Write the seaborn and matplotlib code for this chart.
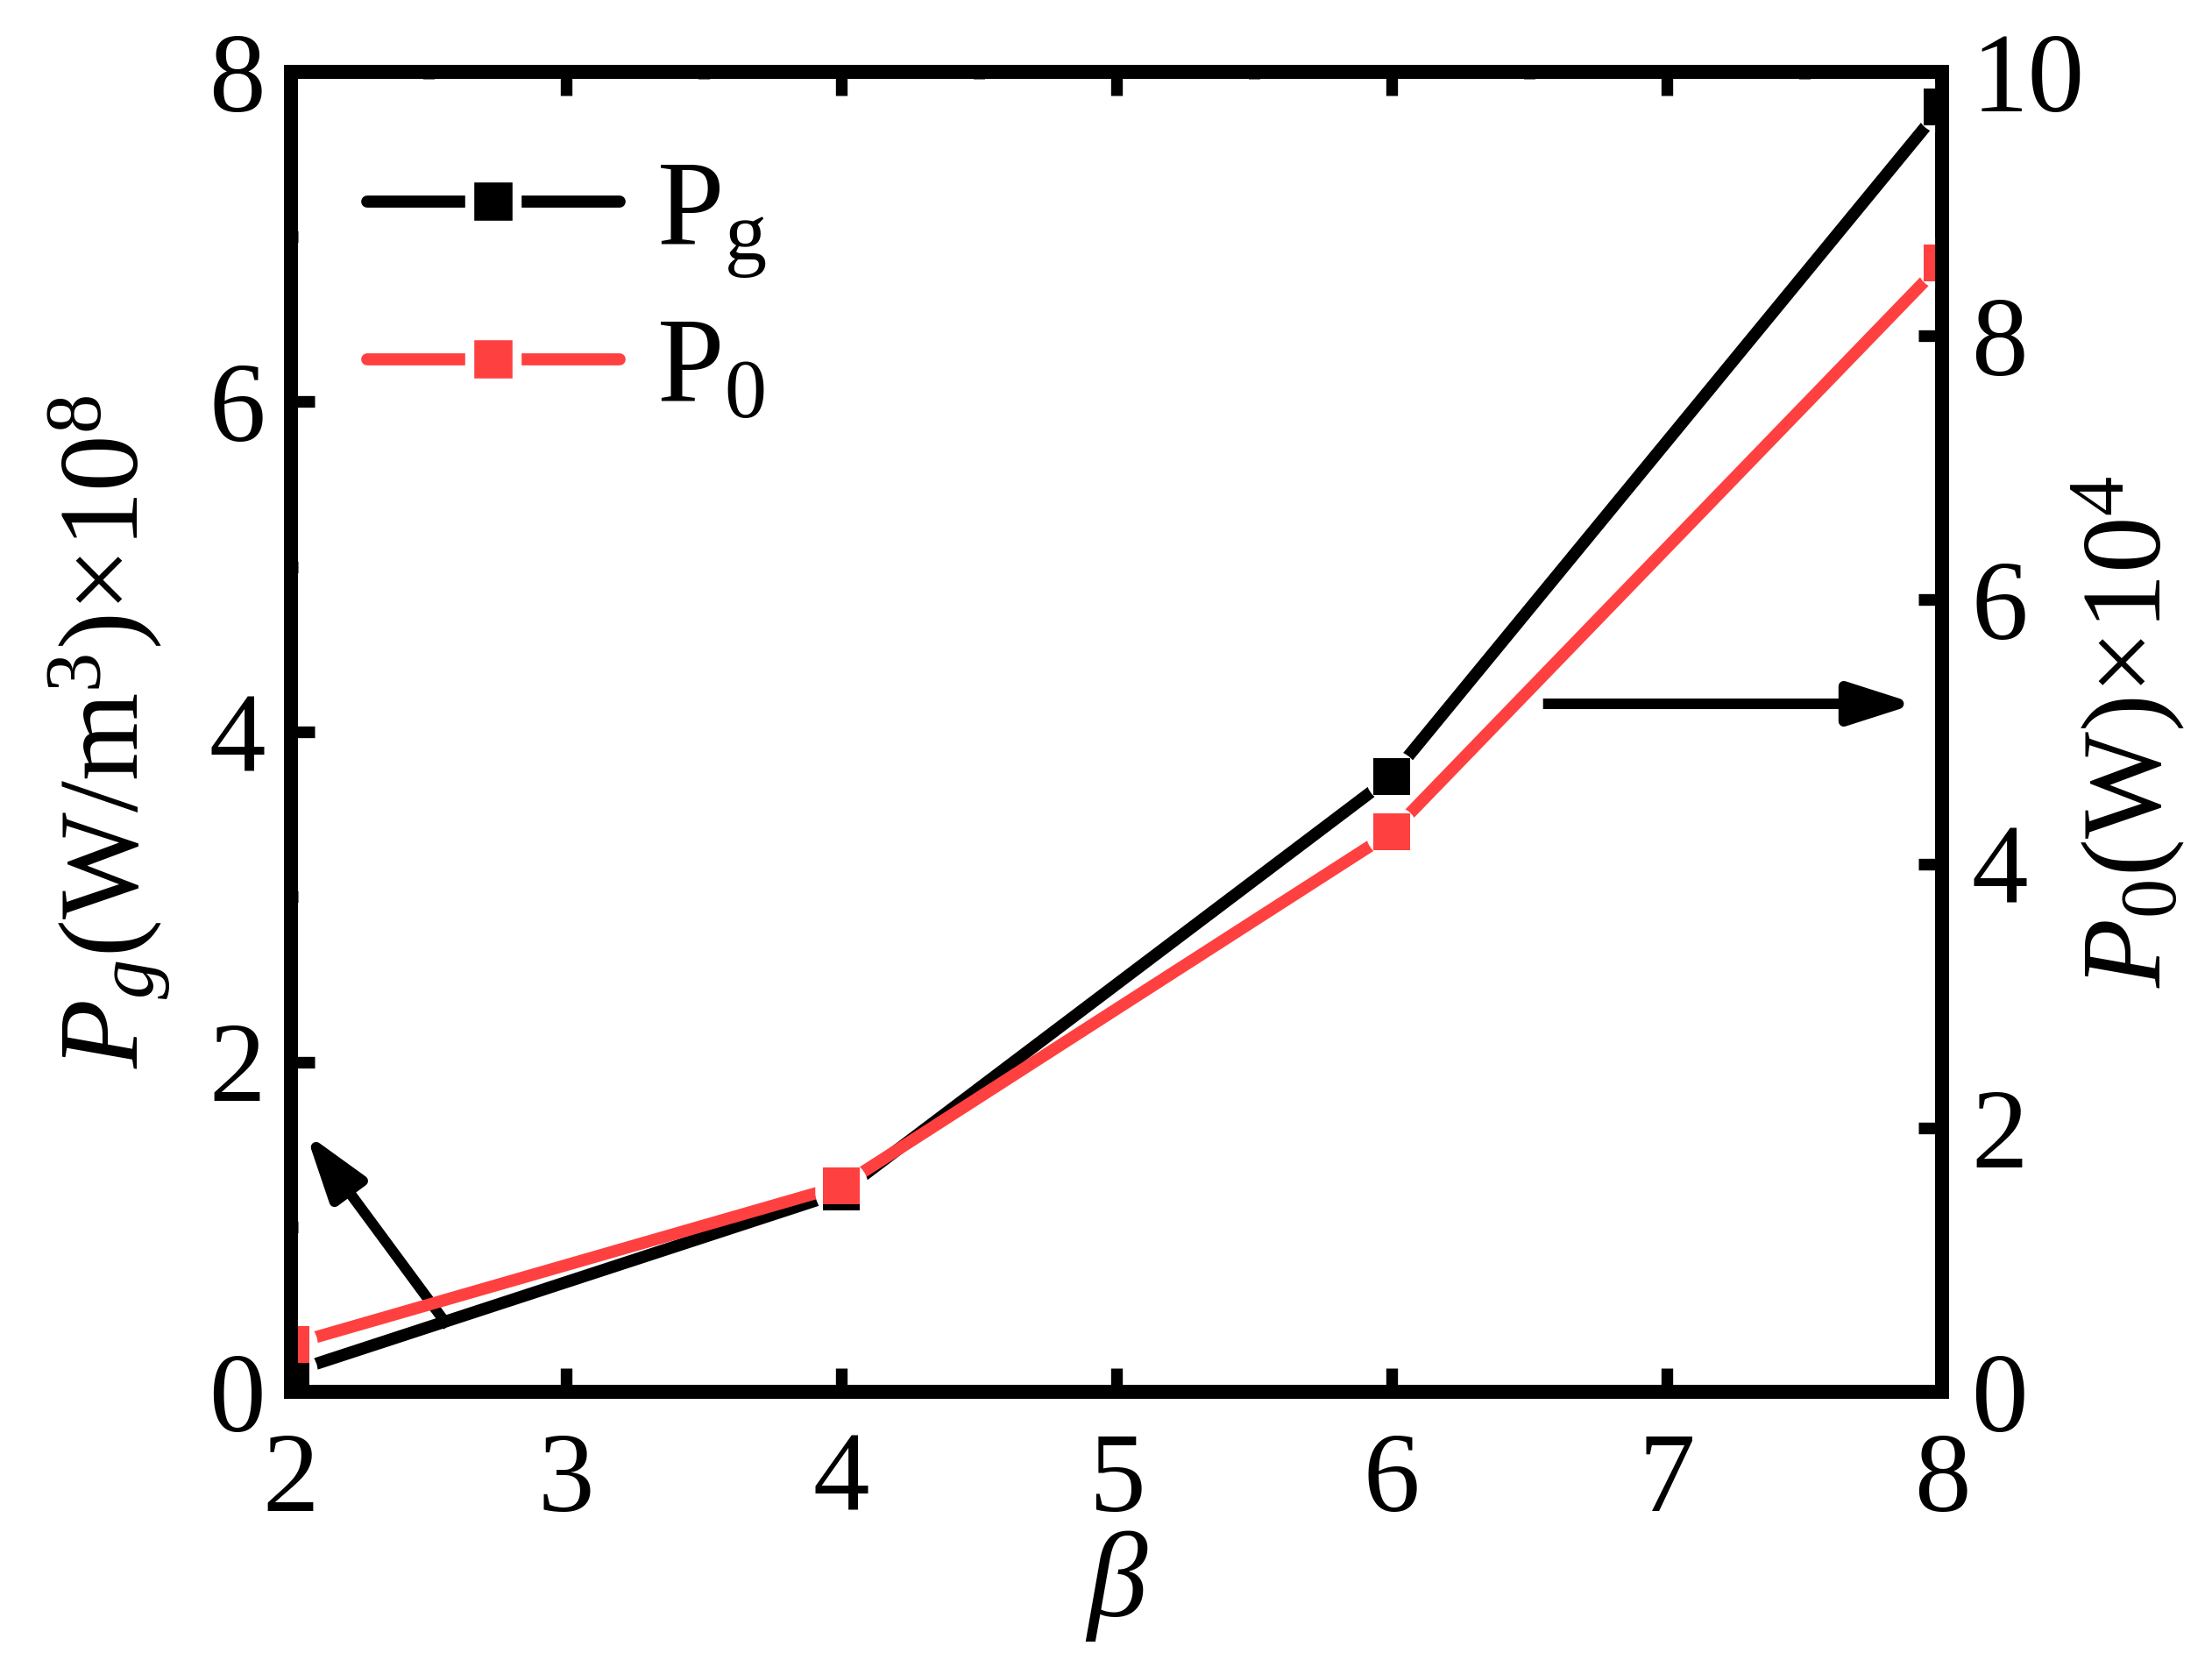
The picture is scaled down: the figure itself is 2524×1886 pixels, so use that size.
import numpy as np
import pandas as pd
import matplotlib
matplotlib.use("Agg")
import matplotlib.pyplot as plt
from matplotlib.lines import Line2D
from matplotlib.ticker import MultipleLocator
from matplotlib import font_manager
import seaborn as sns

# ---- data ----
beta = [2, 4, 6, 8]
pg = [0.12, 1.21, 3.73, 7.79]      # Pg (W/m^3) x 1e8, left axis
p0 = [0.36, 1.56, 4.24, 8.55]      # P0 (W) x 1e4, right axis
legend_labels = [r"P$_\mathrm{g}$", r"P$_0$"]
x_ticks = [2, 3, 4, 5, 6, 7, 8]
left_ticks = [0, 2, 4, 6, 8]
right_ticks = [0, 2, 4, 6, 8, 10]

RED = "#FF4040"
BLACK = "#000000"

sns.set_style("ticks")

# locate a Times-like serif font
serif_name = None
try:
    for path in font_manager.findSystemFonts():
        low = path.lower().replace(" ", "").replace("-", "").replace("_", "")
        if "liberationserif" in low:
            try:
                font_manager.fontManager.addfont(path)
                if serif_name is None:
                    serif_name = font_manager.FontProperties(fname=path).get_name()
            except Exception:
                pass
except Exception:
    pass
if serif_name is None:
    names = {f.name for f in font_manager.fontManager.ttflist}
    for cand in ["Liberation Serif", "Times New Roman", "Nimbus Roman", "DejaVu Serif"]:
        if cand in names:
            serif_name = cand
            break
plt.rcParams["font.family"] = "serif"
plt.rcParams["font.serif"] = [serif_name, "DejaVu Serif"]
plt.rcParams["mathtext.fontset"] = "custom"
plt.rcParams["mathtext.rm"] = serif_name
plt.rcParams["mathtext.it"] = serif_name + ":italic"
plt.rcParams["mathtext.bf"] = serif_name + ":bold"
for k in ["text.color", "axes.labelcolor", "xtick.color", "ytick.color", "axes.edgecolor"]:
    plt.rcParams[k] = "black"

FS = 31
LW = 3.3
SPW = 3.8
MS = 10.3
HALO = 14.5

df = pd.DataFrame({"beta": beta, "pg": pg, "p0": p0})

fig = plt.figure(figsize=(2524 / 300, 1886 / 300), dpi=300)
ax1 = fig.add_axes([332 / 2524, 1 - 1588 / 1886, (2216 - 332) / 2524, (1588 - 82) / 1886])
ax2 = ax1.twinx()

# lines
sns.lineplot(data=df, x="beta", y="pg", ax=ax1, color=BLACK, lw=LW,
             solid_capstyle="round", zorder=2, legend=False)
sns.lineplot(data=df, x="beta", y="p0", ax=ax2, color=RED, lw=LW,
             solid_capstyle="round", zorder=2, legend=False)

# white halos (gap around markers) and markers, all on top axes
ax2.plot(beta, pg, transform=ax1.transData, ls="none", marker="o",
         ms=HALO, mfc="white", mec="none", zorder=3)
ax2.plot(beta, p0, ls="none", marker="o", ms=HALO, mfc="white", mec="none", zorder=3)
ax2.plot(beta, pg, transform=ax1.transData, ls="none", marker="s",
         ms=MS, mfc=BLACK, mec="none", zorder=4)
ax2.plot(beta, p0, ls="none", marker="s", ms=MS, mfc=RED, mec="none", zorder=5)

# limits and ticks
ax1.set_xlim(2, 8)
ax1.set_ylim(0, 8)
ax2.set_ylim(0, 10)
ax1.set_xticks(x_ticks)
ax1.set_yticks(left_ticks)
ax2.set_yticks(right_ticks)
ax1.xaxis.set_minor_locator(MultipleLocator(0.5))
ax1.yaxis.set_minor_locator(MultipleLocator(1))
ax2.yaxis.set_minor_locator(MultipleLocator(1))

ax1.tick_params(axis="x", which="both", direction="in", top=True, bottom=True,
                labelsize=FS, pad=11)
ax1.tick_params(axis="y", which="both", direction="in", left=True, right=False,
                labelsize=FS, pad=7)
ax2.tick_params(axis="y", which="both", direction="in", right=True, left=False,
                labelsize=FS, pad=8)
for ax in (ax1, ax2):
    ax.tick_params(which="major", length=6.5, width=3.2, color="black")
    ax.tick_params(which="minor", length=2.0, width=3.2, color="black")
    for sp in ax.spines.values():
        sp.set_linewidth(SPW)
        sp.set_edgecolor("black")
        sp.set_zorder(10)
        sp.set_visible(True)

ax1.set_xlabel(r"$\beta$", fontsize=FS + 2, labelpad=-2)
ax1.set_ylabel(r"$P_g$(W/m$^3$)×10$^8$", fontsize=FS, labelpad=10)
ax2.set_ylabel(r"$P_{\mathit{0}}$(W)×10$^4$", fontsize=FS, labelpad=-4, rotation=90)

# arrows
for start, end in [((2.571, 0.398), (2.054, 1.567)), ((6.55, 4.17), (7.905, 4.17))]:
    ax1.annotate("", xy=end, xytext=start,
                 arrowprops=dict(arrowstyle="-|>,head_length=1.5,head_width=0.48",
                                 lw=2.9, color=BLACK, shrinkA=0, shrinkB=0,
                                 mutation_scale=10, joinstyle="round", capstyle="butt"),
                 zorder=6)

# legend
handles = [
    Line2D([], [], color=BLACK, lw=LW, marker="s", ms=MS + 2.5, mfc=BLACK, mec="white",
           mew=2.5, solid_capstyle="round"),
    Line2D([], [], color=RED, lw=LW, marker="s", ms=MS + 2.5, mfc=RED, mec="white",
           mew=2.5, solid_capstyle="round"),
]
ax2.legend(handles, legend_labels, loc="upper left", bbox_to_anchor=(0.046, 0.934),
           frameon=False, fontsize=FS + 2, handlelength=2.1, handletextpad=0.3,
           labelspacing=0.31, borderpad=0, borderaxespad=0)

fig.savefig("out.png", dpi=300)
